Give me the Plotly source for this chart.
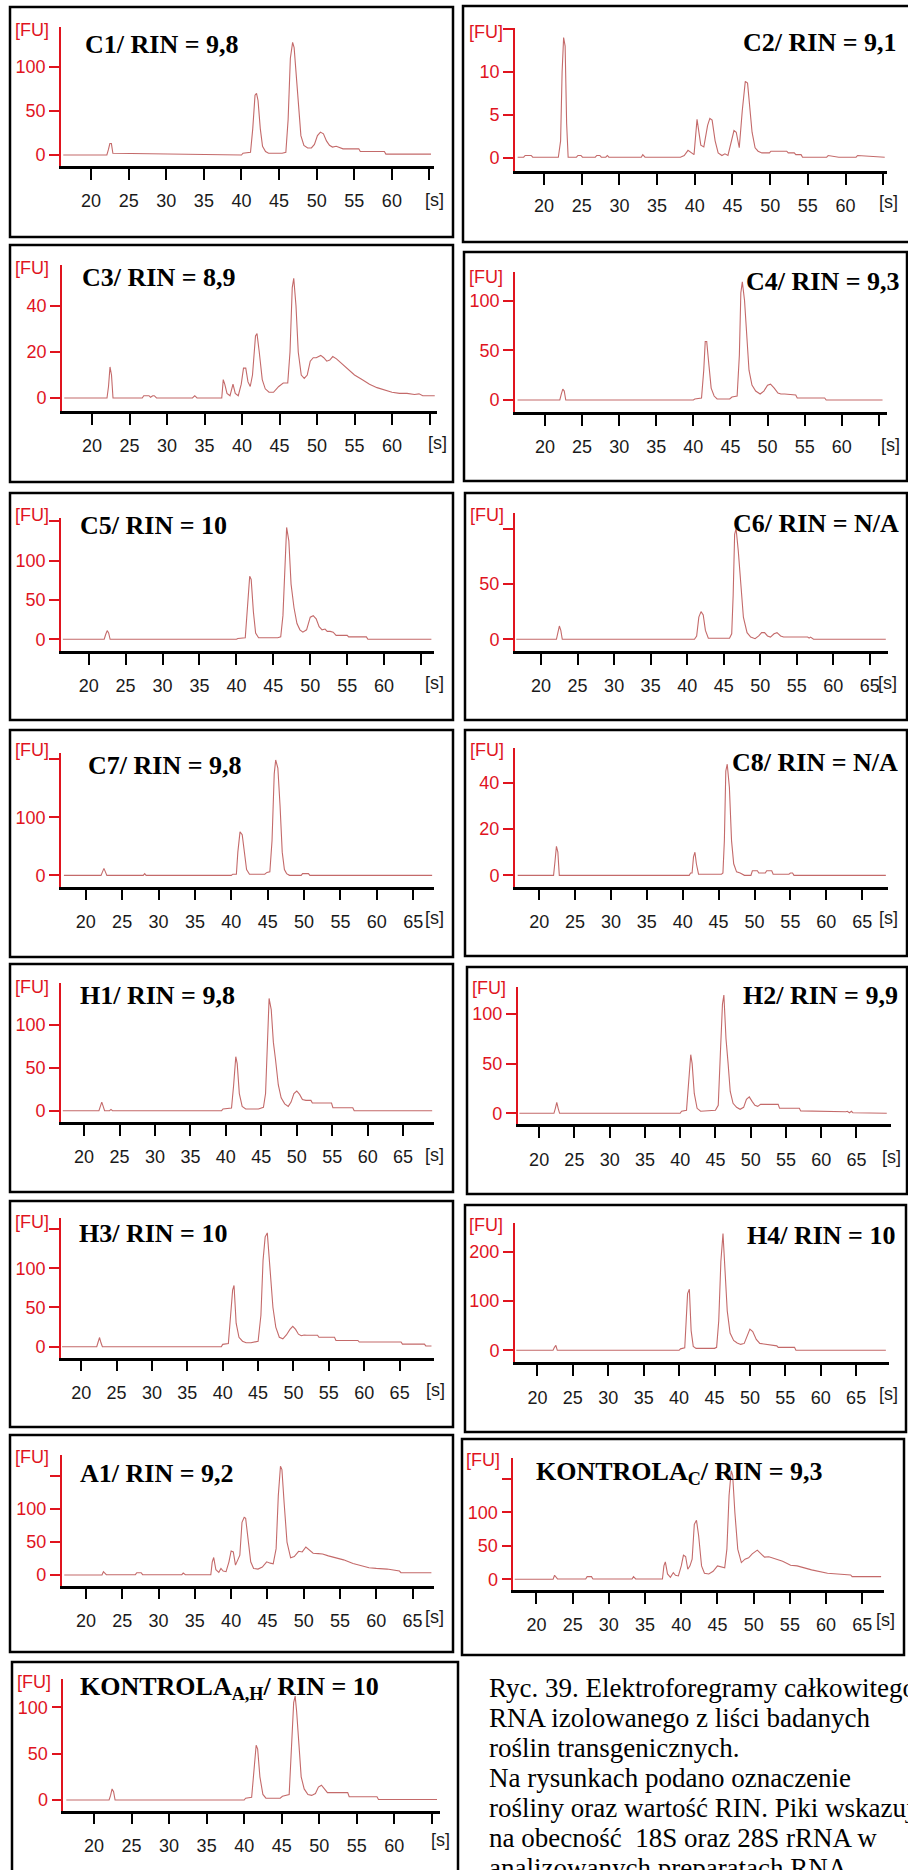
import plotly.graph_objects as go

# elektroferogramy: czas migracji [s] i fluorescencja [FU]
c1_t = [16.3, 22.1, 22.3, 22.5, 22.7, 22.9, 40.0, 40.2, 41.2, 41.5, 41.8, 42.0, 42.2, 42.5, 42.8, 43.2, 43.6, 45.4, 45.9, 46.2, 46.5, 46.8, 47.0, 47.3, 47.6, 47.9, 48.3, 48.8, 49.3, 49.7, 50.1, 50.5, 50.9, 51.3, 51.7, 52.1, 52.6, 53.0, 53.5, 55.6, 55.8, 59.0, 59.2, 65.2]
c1_fu = [0, 0, 6, 13, 13, 2, 0, 2, 3, 30, 68, 70, 62, 30, 10, 4, 2, 2, 3, 40, 110, 128, 122, 90, 50, 22, 11, 8, 8, 12, 22, 26, 24, 16, 11, 9, 10, 9, 7, 7, 4, 4, 1, 1]

c2_t = [16.5, 17.3, 17.5, 18.3, 18.5, 21.9, 22.2, 22.4, 22.6, 22.8, 23.0, 23.2, 24.3, 24.5, 24.9, 25.1, 26.8, 27.0, 27.4, 27.6, 28.2, 28.4, 28.6, 32.9, 33.1, 33.4, 38.1, 38.6, 39.1, 39.5, 39.9, 40.3, 40.5, 40.8, 41.2, 41.7, 42.0, 42.3, 42.7, 43.1, 43.6, 44.0, 44.4, 44.8, 45.2, 45.5, 45.9, 46.3, 46.7, 47.0, 47.3, 47.6, 48.0, 48.4, 48.9, 49.9, 50.1, 52.2, 52.4, 53.2, 53.4, 54.1, 54.3, 57.5, 57.7, 58.9, 59.1, 61.4, 61.6, 65.2]
c2_fu = [0.1, 0.1, 0.3, 0.3, 0.1, 0.1, 2, 10, 14, 13, 4, 0.1, 0.1, 0.3, 0.3, 0.1, 0.1, 0.3, 0.3, 0.1, 0.1, 0.3, 0.1, 0.1, 0.4, 0.1, 0.1, 0.3, 0.9, 0.6, 0.4, 4.5, 3.4, 1.5, 1.3, 3.8, 4.6, 4.4, 2, 0.6, 0.3, 0.5, 0.3, 1.6, 3.2, 3.0, 1.2, 5.5, 8.9, 8.7, 6, 3, 1.2, 0.8, 0.6, 0.6, 0.8, 0.8, 0.6, 0.6, 0.4, 0.4, 0.1, 0.1, 0.3, 0.1, 0.1, 0.1, 0.3, 0.1]

c3_t = [16.3, 22.0, 22.2, 22.4, 22.6, 22.8, 26.7, 26.9, 27.6, 27.8, 28.1, 28.3, 28.6, 33.4, 33.7, 34.0, 37.3, 37.5, 37.7, 38.0, 38.4, 38.8, 39.1, 39.5, 39.9, 40.2, 40.5, 40.8, 41.1, 41.4, 41.8, 42.0, 42.3, 42.7, 43.1, 43.6, 44.2, 44.9, 45.5, 46.1, 46.4, 46.7, 46.9, 47.2, 47.5, 47.9, 48.3, 48.7, 49.1, 49.5, 49.9, 50.5, 50.9, 51.3, 51.7, 52.1, 52.6, 53.1, 54.0, 55.0, 56.0, 57.0, 58.0, 59.0, 60.0, 61.0, 62.0, 63.0, 63.6, 64.1, 65.7]
c3_fu = [0, 0, 5, 13.5, 10, 0, 0, 1, 1, 0.3, 1, 1, 0, 0, 1, 0, 0, 8, 6, 2, 1, 6, 2, 1, 6, 13, 13, 7, 5, 10, 27, 28, 20, 8, 4, 2.5, 2.5, 5, 6.5, 6.5, 20, 48, 52, 40, 20, 10, 8.5, 10, 16, 17.5, 17.5, 18.5, 17.5, 16, 16.5, 18, 17, 15.5, 13, 10, 8, 6, 4.5, 3.5, 2.5, 2, 2, 1.5, 1.8, 1, 1]

c4_t = [16.3, 22.0, 22.2, 22.4, 22.6, 22.8, 40.0, 40.2, 41.1, 41.4, 41.6, 41.8, 42.1, 42.4, 42.8, 43.2, 44.9, 45.2, 45.9, 46.2, 46.4, 46.6, 46.9, 47.2, 47.5, 47.9, 48.4, 49.0, 49.5, 50.0, 50.4, 50.9, 51.4, 51.8, 52.3, 53.8, 54.0, 57.7, 57.9, 65.5]
c4_fu = [0, 0, 6, 11, 9, 0, 0, 1, 2, 30, 59, 59, 35, 12, 4, 1, 1, 3, 4, 45, 108, 119, 100, 60, 30, 15, 9, 6, 9, 15, 16, 12, 7, 6, 6, 5, 2, 2, 0, 0]

c5_t = [16.5, 22.1, 22.3, 22.5, 22.7, 22.9, 40.0, 40.2, 41.2, 41.5, 41.8, 42.0, 42.3, 42.6, 43.0, 45.6, 46.0, 46.3, 46.6, 46.8, 47.1, 47.4, 47.8, 48.2, 48.6, 49.0, 49.5, 50.0, 50.4, 50.8, 51.2, 51.6, 52.0, 52.3, 52.7, 53.1, 53.5, 55.0, 55.2, 57.6, 57.8, 66.4]
c5_fu = [0, 0, 6, 11, 8, 0, 0, 1, 2, 40, 80, 76, 35, 8, 2, 2, 3, 30, 110, 142, 125, 70, 40, 20, 12, 9, 12, 28, 30, 26, 16, 12, 13, 10, 10, 9, 5, 5, 3, 3, 0, 0]

c6_t = [16.6, 22.1, 22.3, 22.5, 22.7, 22.9, 41.0, 41.3, 41.6, 41.9, 42.2, 42.5, 42.9, 45.8, 46.1, 46.3, 46.5, 46.7, 47.0, 47.3, 47.7, 48.2, 48.7, 49.3, 49.8, 50.2, 50.6, 51.0, 51.4, 51.9, 52.3, 52.8, 53.2, 56.5, 56.7, 56.9, 57.1, 57.3, 67.2]
c6_fu = [0, 0, 6, 12, 8, 0, 0, 3, 20, 25, 22, 8, 1, 1, 5, 40, 95, 100, 80, 50, 20, 6, 2, 0.5, 3, 6, 6, 3, 2, 5, 6, 3, 2, 2, 1, 2, 0.5, 0, 0]

c7_t = [17.0, 22.1, 22.3, 22.5, 22.7, 22.9, 27.9, 28.1, 28.3, 40.0, 40.2, 40.7, 40.9, 41.2, 41.5, 41.8, 42.1, 42.5, 44.6, 44.9, 45.3, 45.6, 45.9, 46.1, 46.4, 46.7, 47.0, 47.3, 47.6, 48.0, 49.6, 49.8, 50.6, 50.8, 67.6]
c7_fu = [0, 0, 6, 12, 6, 0, 0, 3, 0, 0, 2, 2, 40, 75, 70, 35, 10, 2, 2, 5, 6, 60, 175, 199, 185, 120, 40, 10, 3, 0, 0, 3, 3, 0, 0]

c8_t = [17.0, 22.0, 22.2, 22.4, 22.6, 22.8, 40.9, 41.1, 41.3, 41.5, 41.7, 41.9, 42.2, 45.4, 45.6, 45.8, 46.0, 46.2, 46.5, 46.8, 47.1, 47.5, 48.0, 48.6, 49.5, 49.7, 50.4, 50.6, 51.5, 51.7, 52.4, 52.6, 54.8, 55.0, 55.3, 55.5, 68.3]
c8_fu = [0, 0, 6, 12.5, 10, 0, 0, 1, 1, 8, 10, 5, 0.5, 0.5, 1, 15, 45, 48, 38, 15, 5, 1.5, 1, 0, 0, 2, 2, 1, 1, 2, 2, 0.5, 0.5, 1, 1, 0, 0]

h1_t = [17.0, 22.1, 22.3, 22.5, 22.7, 22.9, 23.6, 23.8, 24.0, 39.4, 39.6, 40.8, 41.1, 41.4, 41.6, 41.9, 42.3, 42.8, 44.6, 45.3, 45.6, 45.9, 46.1, 46.4, 46.7, 47.0, 47.4, 47.8, 48.3, 48.8, 49.2, 49.6, 50.0, 50.4, 50.8, 51.3, 52.0, 52.2, 54.9, 55.1, 57.9, 58.1, 69.1]
h1_fu = [0, 0, 5, 10, 5, 0, 0, 1.5, 0, 0, 2, 3, 30, 63, 55, 20, 5, 2, 2, 4, 20, 90, 131, 118, 80, 60, 30, 15, 8, 5, 10, 20, 23, 19, 13, 12, 12, 9, 9, 3.5, 3.5, 0, 0]

h2_t = [17.2, 22.1, 22.3, 22.5, 22.7, 22.9, 40.0, 40.2, 40.9, 41.2, 41.5, 41.7, 42.0, 42.4, 42.9, 45.0, 45.4, 45.7, 46.0, 46.2, 46.5, 46.8, 47.1, 47.5, 48.0, 48.5, 49.0, 49.4, 49.8, 50.2, 50.6, 51.0, 51.4, 53.9, 54.1, 56.9, 57.1, 63.5, 63.7, 64.0, 64.3, 64.5, 69.3]
h2_fu = [0, 0, 5, 11, 5, 0, 0, 2, 3, 30, 59, 50, 20, 5, 2, 3, 8, 60, 110, 119, 75, 50, 22, 10, 6, 4, 6, 14, 16.5, 12, 8, 7, 9, 9, 5, 5, 2.4, 1.5, 2, 0.5, 2, 0.5, 0]

h3_t = [17.3, 22.2, 22.4, 22.6, 22.8, 23.0, 39.8, 40.0, 40.8, 41.1, 41.4, 41.6, 41.9, 42.3, 42.8, 43.3, 44.0, 45.0, 45.4, 45.7, 46.0, 46.3, 46.5, 46.8, 47.1, 47.5, 48.0, 48.5, 49.0, 49.5, 49.9, 50.3, 50.7, 51.1, 51.5, 51.9, 53.4, 53.6, 55.8, 56.0, 59.1, 59.3, 65.2, 65.4, 68.5, 68.7, 69.5]
h3_fu = [0, 0, 6, 11.7, 5, 0, 0, 3, 4, 40, 72, 78, 30, 12, 7, 5, 5, 7, 40, 110, 140, 145, 120, 80, 50, 25, 12, 10, 15, 22, 26, 22, 16, 14, 15, 14.6, 14.6, 12, 12, 8, 8, 6, 6, 3.3, 3.3, 1, 1]

h4_t = [17.0, 22.2, 22.4, 22.6, 22.8, 40.0, 40.2, 40.8, 41.0, 41.2, 41.45, 41.7, 42.0, 42.4, 45.0, 45.3, 45.6, 45.9, 46.2, 46.5, 46.8, 47.2, 47.7, 48.2, 48.7, 49.2, 49.6, 50.0, 50.4, 50.9, 51.4, 52.5, 52.7, 53.8, 54.0, 56.3, 56.5, 69.2]
h4_fu = [0, 0, 6, 10, 0, 0, 3, 5, 60, 115, 124, 40, 8, 4, 4, 6, 60, 180, 237, 150, 80, 35, 20, 15, 12, 14, 30, 43, 38, 22, 14, 12, 11, 9, 6, 6, 0, 0]

a1_t = [17.0, 22.2, 22.4, 22.6, 22.8, 26.8, 27.0, 27.6, 27.8, 33.2, 33.4, 33.7, 37.2, 37.4, 37.6, 37.9, 38.3, 38.6, 38.9, 39.3, 39.7, 40.0, 40.3, 40.6, 40.9, 41.2, 41.5, 41.8, 42.0, 42.3, 42.7, 43.1, 43.7, 44.3, 44.9, 45.4, 45.8, 46.2, 46.5, 46.8, 47.0, 47.3, 47.7, 48.2, 48.7, 49.3, 49.8, 50.3, 50.8, 51.3, 52.0, 52.6, 53.4, 54.5, 55.5, 56.8, 58.0, 59.0, 60.0, 61.5, 63.2, 63.4, 67.6]
a1_fu = [0, 0, 5, 3, 0.5, 0.5, 3.5, 3.5, 0.5, 0.5, 3, 0.5, 0.5, 20, 26.5, 8, 4, 10, 6, 5, 20, 36.5, 35, 15, 22, 30, 80, 87.5, 86, 60, 20, 10, 9, 12, 20, 18, 17, 40, 120, 165, 160, 110, 50, 26, 28, 36, 35, 42.5, 38, 33, 32.5, 32, 29, 26, 23, 17.5, 14, 11, 10, 9, 6, 3.5, 3.5]

kc_t = [17.0, 22.3, 22.5, 22.7, 22.9, 26.8, 27.0, 27.6, 27.8, 33.2, 33.4, 33.7, 37.4, 37.6, 37.8, 38.1, 38.5, 38.9, 39.2, 39.6, 40.0, 40.3, 40.6, 40.9, 41.2, 41.5, 41.8, 42.1, 42.4, 42.8, 43.2, 43.8, 44.4, 45.0, 45.5, 46.0, 46.3, 46.6, 46.9, 47.1, 47.4, 47.8, 48.3, 48.8, 49.3, 49.8, 50.5, 51.0, 51.5, 52.1, 53.0, 54.0, 55.1, 56.0, 57.0, 58.0, 60.2, 61.5, 63.4, 63.6, 67.6]
kc_fu = [0, 0, 6, 3, 0.5, 0.5, 4, 4, 0.5, 0.5, 4, 0.5, 0.5, 20, 26, 8, 3, 10, 6, 5, 20, 36, 34, 15, 20, 30, 82, 88, 65, 20, 9, 8, 12, 20, 19, 17, 45, 125, 162, 155, 100, 45, 25, 30, 32, 38, 43.5, 38, 33, 33.6, 30, 27, 21, 20, 17, 14, 9, 8, 6.4, 4, 4]

kah_t = [16.3, 22.0, 22.2, 22.4, 22.6, 22.8, 40.0, 40.2, 41.0, 41.3, 41.6, 41.8, 42.1, 42.5, 42.9, 44.8, 45.1, 46.0, 46.3, 46.6, 46.8, 47.0, 47.3, 47.6, 48.0, 48.5, 49.0, 49.5, 49.9, 50.3, 50.7, 51.1, 51.5, 51.9, 53.8, 54.0, 57.7, 57.9, 65.7]
kah_fu = [0, 0, 5, 12, 9, 0, 0, 2, 3, 30, 59, 55, 25, 6, 2, 2, 4, 6, 50, 105, 112, 95, 60, 25, 12, 6, 5, 7, 14, 16, 12, 8, 8, 8, 8, 3.6, 3.6, 0.5, 0.5]

# podziałki (kreski bez opisu idą jako minor)
x_ticks_60 = [20, 25, 30, 35, 40, 45, 50, 55, 60]
x_ticks_65 = [20, 25, 30, 35, 40, 45, 50, 55, 60, 65]
x_bare_60 = [65]
y_0_100 = [0, 50, 100]
y_0_40 = [0, 20, 40]
y_c2 = [0, 5, 10]
y_c6 = [0, 50]
y_c7 = [0, 100]
y_h4 = [0, 100, 200]
y_bare_c2 = [15]
y_bare_150 = [150]
y_bare_c6 = [100]
y_bare_c7 = [200]

labels = ["C1/ RIN = 9,8", "C2/ RIN = 9,1", "C3/ RIN = 8,9", "C4/ RIN = 9,3",
          "C5/ RIN = 10", "C6/ RIN = N/A", "C7/ RIN = 9,8", "C8/ RIN = N/A",
          "H1/ RIN = 9,8", "H2/ RIN = 9,9", "H3/ RIN = 10", "H4/ RIN = 10",
          "A1/ RIN = 9,2", "KONTROLA<sub>C</sub>/ RIN = 9,3", "KONTROLA<sub>A,H</sub>/ RIN = 10"]

caption = ["Ryc. 39. Elektroforegramy całkowitego",
           "RNA izolowanego z liści badanych",
           "roślin transgenicznych.",
           "Na rysunkach podano oznaczenie",
           "rośliny oraz wartość RIN. Piki wskazują",
           "na obecność  18S oraz 28S rRNA w",
           "analizowanych preparatach RNA."]

W, H = 908, 1870
RED = "#e0141e"
TRACE = "#c46a6a"
TICKFONT = "Liberation Sans"


def fx(px):
    return px / W


def fy(py):
    return 1 - py / H


# geometria w pikselach: ramka, obszar osi (L, R, T, B), zakresy, położenie napisów
panels = [
    dict(t=c1_t, fu=c1_fu, yt=y_0_100, yb=[], xt=x_ticks_60, xb=x_bare_60, box=(10, 7, 453, 237),
         area=(61, 434, 27, 166), xr=(16.0, 65.6), yr=(-12.5, 145.5), lab=(83, 44, "left"), fu_at=(13, 30), s_at=(434, 200)),
    dict(t=c2_t, fu=c2_fu, yt=y_c2, yb=y_bare_c2, xt=x_ticks_60, xb=x_bare_60, box=(463, 6, 910, 242),
         area=(515, 887, 28, 171), xr=(16.15, 65.5), yr=(-1.5, 15.1), lab=(899, 43, "right"), fu_at=(467, 32), s_at=(888, 202)),
    dict(t=c3_t, fu=c3_fu, yt=y_0_40, yb=[], xt=x_ticks_60, xb=x_bare_60, box=(10, 245, 453, 482),
         area=(62, 437, 265, 411), xr=(16.0, 66.0), yr=(-5.65, 57.8), lab=(80, 277, "left"), fu_at=(13, 268), s_at=(437, 443)),
    dict(t=c4_t, fu=c4_fu, yt=y_0_100, yb=[], xt=x_ticks_60, xb=x_bare_60, box=(464, 252, 907, 481),
         area=(515, 887, 272, 412), xr=(15.96, 66.1), yr=(-12.1, 129), lab=(902, 282, "right"), fu_at=(467, 277), s_at=(890, 445)),
    dict(t=c5_t, fu=c5_fu, yt=y_0_100, yb=y_bare_150, xt=x_ticks_60, xb=x_bare_60, box=(10, 493, 453, 720),
         area=(61, 433.6, 518, 651), xr=(16.25, 66.7), yr=(-14.9, 154), lab=(78, 525, "left"), fu_at=(13, 515), s_at=(434, 683)),
    dict(t=c6_t, fu=c6_fu, yt=y_c6, yb=y_bare_c6, xt=x_ticks_65, xb=[], box=(465, 493, 907, 720),
         area=(514.8, 888, 512.7, 651), xr=(16.4, 67.5), yr=(-10.6, 114.5), lab=(901, 523, "right"), fu_at=(468, 515), s_at=(887, 683)),
    dict(t=c7_t, fu=c7_fu, yt=y_c7, yb=y_bare_c7, xt=x_ticks_65, xb=[], box=(10, 730, 453, 957),
         area=(61, 433.6, 753, 886.7), xr=(16.6, 67.8), yr=(-19.6, 211), lab=(86, 765, "left"), fu_at=(13, 750), s_at=(434, 918)),
    dict(t=c8_t, fu=c8_fu, yt=y_0_40, yb=[], xt=x_ticks_65, xb=[], box=(465, 730, 907, 956),
         area=(514.8, 888, 748, 886.7), xr=(16.6, 68.6), yr=(-4.9, 55), lab=(900, 762, "right"), fu_at=(468, 750), s_at=(888, 918)),
    dict(t=h1_t, fu=h1_fu, yt=y_0_100, yb=[], xt=x_ticks_65, xb=[], box=(10, 964, 453, 1192),
         area=(61, 433.6, 983, 1122), xr=(16.75, 69.3), yr=(-13.2, 149), lab=(78, 995, "left"), fu_at=(13, 987), s_at=(434, 1155)),
    dict(t=h2_t, fu=h2_fu, yt=y_0_100, yb=[], xt=x_ticks_65, xb=[], box=(467, 967, 907, 1194),
         area=(517.7, 891, 986.7, 1124.3), xr=(16.96, 69.9), yr=(-11.1, 127.5), lab=(900, 995, "right"), fu_at=(470, 988), s_at=(891, 1157)),
    dict(t=h3_t, fu=h3_fu, yt=y_0_100, yb=y_bare_150, xt=x_ticks_65, xb=[], box=(10, 1201, 453, 1427),
         area=(61, 433.6, 1218, 1357.7), xr=(17.15, 69.8), yr=(-14, 164), lab=(77, 1233, "left"), fu_at=(13, 1222), s_at=(435, 1390)),
    dict(t=h4_t, fu=h4_fu, yt=y_h4, yb=[], xt=x_ticks_65, xb=[], box=(465, 1205, 906, 1432),
         area=(514.8, 888.7, 1223.3, 1362.3), xr=(16.8, 69.6), yr=(-24.3, 257.6), lab=(897, 1235, "right"), fu_at=(467, 1225), s_at=(888, 1394)),
    dict(t=a1_t, fu=a1_fu, yt=y_0_100, yb=y_bare_150, xt=x_ticks_65, xb=[], box=(10, 1435, 453, 1652),
         area=(61.7, 434.3, 1455, 1585.7), xr=(16.65, 68.0), yr=(-16.2, 182), lab=(78, 1473, "left"), fu_at=(13, 1457), s_at=(434, 1617)),
    dict(t=kc_t, fu=kc_fu, yt=y_0_100, yb=y_bare_150, xt=x_ticks_65, xb=[], box=(462, 1439, 904, 1655),
         area=(513.3, 884, 1458, 1590), xr=(16.8, 68.0), yr=(-16, 181), lab=(534, 1473, "left"), fu_at=(464, 1460), s_at=(885, 1620)),
    dict(t=kah_t, fu=kah_fu, yt=y_0_100, yb=[], xt=x_ticks_60, xb=x_bare_60, box=(12, 1662, 458, 1890),
         area=(63.3, 440, 1679, 1810.7), xr=(15.9, 66.1), yr=(-11.5, 130.5), lab=(78, 1688, "left"), fu_at=(15, 1682), s_at=(440, 1840)),
]

fig = go.Figure()
shapes = []
annotations = []
axes = {}

for i, (p, text) in enumerate(zip(panels, labels), start=1):
    assert len(p["t"]) == len(p["fu"]), i
    sfx = "" if i == 1 else str(i)
    fig.add_trace(go.Scatter(x=p["t"], y=p["fu"], mode="lines",
                             line=dict(color=TRACE, width=1.1),
                             xaxis="x" + sfx, yaxis="y" + sfx, hoverinfo="skip"))
    L, R, T, B = p["area"]
    axes["xaxis" + sfx] = dict(
        domain=[fx(L), fx(R)], range=list(p["xr"]), anchor="y" + sfx,
        showline=True, linecolor="black", linewidth=2.5,
        ticks="outside", ticklen=11, tickwidth=2, tickcolor="black",
        tickmode="array", tickvals=p["xt"], ticktext=[str(v) for v in p["xt"]],
        minor=dict(tickmode="array", tickvals=p["xb"], ticks="outside",
                   ticklen=11, tickwidth=2, tickcolor="black", showgrid=False),
        tickfont=dict(family=TICKFONT, size=18, color="#1a1a1a"),
        ticklabelstandoff=6,
        showgrid=False, zeroline=False, automargin=False, fixedrange=True)
    axes["yaxis" + sfx] = dict(
        domain=[fy(B), fy(T)], range=list(p["yr"]), anchor="x" + sfx,
        showline=True, linecolor=RED, linewidth=1.6,
        ticks="outside", ticklen=10, tickwidth=2, tickcolor=RED,
        tickmode="array", tickvals=p["yt"], ticktext=[str(v) for v in p["yt"]],
        minor=dict(tickmode="array", tickvals=p["yb"], ticks="outside",
                   ticklen=10, tickwidth=2, tickcolor=RED, showgrid=False),
        tickfont=dict(family=TICKFONT, size=18, color=RED),
        showgrid=False, zeroline=False, automargin=False, fixedrange=True)

    x0, y0, x1, y1 = p["box"]
    shapes.append(dict(type="rect", xref="paper", yref="paper",
                       x0=fx(x0), x1=fx(x1), y0=fy(y1), y1=fy(y0),
                       line=dict(color="black", width=2.5)))

    lx, ly, anchor = p["lab"]
    annotations.append(dict(text=text, x=fx(lx), y=fy(ly), xref="paper", yref="paper",
                            xanchor=anchor, yanchor="middle", showarrow=False,
                            font=dict(family="Liberation Serif", size=26, color="black", weight="bold")))
    annotations.append(dict(text="[FU]", x=fx(p["fu_at"][0]), y=fy(p["fu_at"][1]),
                            xref="paper", yref="paper", xanchor="left", yanchor="middle",
                            showarrow=False, font=dict(family=TICKFONT, size=18, color=RED)))
    annotations.append(dict(text="[s]", x=fx(p["s_at"][0]), y=fy(p["s_at"][1]),
                            xref="paper", yref="paper", xanchor="center", yanchor="middle",
                            showarrow=False, font=dict(family=TICKFONT, size=18, color="#1a1a1a")))

# podpis ryciny
for k, line in enumerate(caption):
    annotations.append(dict(text=line, x=fx(487), y=fy(1688 + 30 * k), xref="paper", yref="paper",
                            xanchor="left", yanchor="middle", showarrow=False,
                            font=dict(family="Liberation Serif", size=27, color="black")))

fig.update_layout(
    width=W, height=H,
    margin=dict(l=0, r=0, t=0, b=0),
    paper_bgcolor="white", plot_bgcolor="white",
    showlegend=False, template="none",
    shapes=shapes, annotations=annotations,
    **axes)

fig.write_html("out.html", config={"displayModeBar": False},
               post_script="document.body.style.margin='0';document.body.style.overflow='hidden';")
